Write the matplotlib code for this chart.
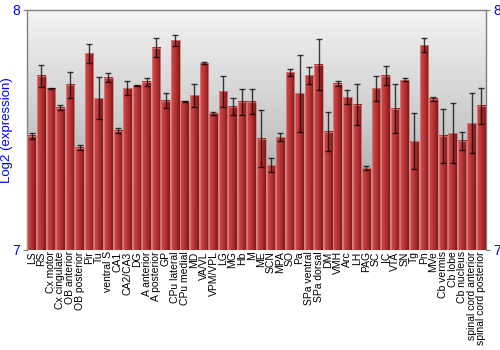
import matplotlib
matplotlib.use("Agg")
import matplotlib.pyplot as plt
import numpy as np
from matplotlib.colors import LinearSegmentedColormap

plt.rcParams["font.family"] = ["Liberation Sans", "DejaVu Sans"]

# regions and expression values (log2)
regions = ["LS", "RS", "Cx motor", "Cx cingulate", "OB anterior", "OB posterior",
           "Pir", "Tu", "ventral S", "CA1", "CA2/CA3", "DG", "A anterior",
           "A posterior", "GP", "CPu lateral", "CPu medial", "MD", "VA/VL",
           "VPM/VPL", "LG", "MG", "Hb", "M", "ME", "SCN", "MPA", "SO", "Pa",
           "SPa ventral", "SPa dorsal", "DM", "VMH", "Arc", "LH", "PAG", "SC",
           "IC", "VTA", "SN", "Tg", "Pn", "MVe", "Cb vermis", "Cb lobe",
           "Cb nucleus", "spinal cord anterior", "spinal cord posterior"]
values = [7.475, 7.725, 7.671, 7.593, 7.688, 7.425, 7.819, 7.633, 7.717, 7.496,
          7.674, 7.686, 7.700, 7.842, 7.622, 7.874, 7.617, 7.644, 7.778, 7.569,
          7.661, 7.597, 7.617, 7.617, 7.463, 7.353, 7.469, 7.740, 7.653, 7.728,
          7.771, 7.492, 7.692, 7.636, 7.604, 7.340, 7.674, 7.725, 7.588, 7.708,
          7.453, 7.853, 7.629, 7.475, 7.486, 7.454, 7.528, 7.600]
errors = [0.012, 0.045, 0.002, 0.010, 0.054, 0.011, 0.040, 0.087, 0.019, 0.010,
          0.028, 0.002, 0.016, 0.040, 0.033, 0.023, 0.003, 0.047, 0.003, 0.006,
          0.064, 0.035, 0.054, 0.052, 0.118, 0.030, 0.017, 0.015, 0.160, 0.035,
          0.106, 0.081, 0.010, 0.029, 0.085, 0.009, 0.052, 0.040, 0.103, 0.006,
          0.117, 0.029, 0.007, 0.111, 0.124, 0.037, 0.125, 0.076]

blue = "#0000ff"
ymin, ymax = 7, 8

fig = plt.figure(figsize=(5, 3.5), dpi=100)
ax = fig.add_axes([0.054, 0.286, 0.918, 0.686])

n = len(regions)
x = np.arange(n)
ax.set_xlim(-0.5, n - 0.5)
ax.set_ylim(ymin, ymax)

# background gradient (light at top, grey at bottom)
bg = np.linspace(0, 1, 256).reshape(-1, 1)
bg_cmap = LinearSegmentedColormap.from_list("bg", ["#8c8c8c", "#c8c8c8", "#f4f4f4"])
ax.imshow(bg, cmap=bg_cmap, aspect="auto", origin="lower",
          extent=(-0.5, n - 0.5, ymin, ymax), zorder=0)

# bars with horizontal red gradient
bar_cmap = LinearSegmentedColormap.from_list("bar", ["#cf4f4f", "#b83232", "#7e1a1a"])
grad = np.linspace(0, 1, 64).reshape(1, -1)
w = 0.9
for xi, v in zip(x, values):
    ax.imshow(grad, cmap=bar_cmap, aspect="auto",
              extent=(xi - w / 2, xi + w / 2, ymin, v), zorder=2)
    ax.add_patch(plt.Rectangle((xi - w / 2, ymin), w, v - ymin, fill=False,
                               edgecolor="#d88080", linewidth=0.6, zorder=3))

ax.errorbar(x, values, yerr=errors, fmt="none", ecolor="black", elinewidth=1,
            capsize=2, capthick=1, alpha=0.75, zorder=4)

ax.set_xticks(x)
ax.set_xticklabels(regions, rotation=90, fontsize=7.5)
ax.tick_params(axis="x", length=0, pad=1)

ax.set_yticks([7, 8])
ax.tick_params(axis="y", colors="#808080", labelcolor=blue, labelsize=10,
               length=3, pad=2, left=True, right=True, labelleft=True, labelright=True)
ax.set_ylabel("Log2 (expression)", color=blue, fontsize=9.5)
ax.yaxis.set_label_coords(-0.03, 0.5)

for s in ax.spines.values():
    s.set_color("#808080")
    s.set_linewidth(1)
ax.spines["bottom"].set_visible(False)

fig.savefig("out.png", dpi=100)
